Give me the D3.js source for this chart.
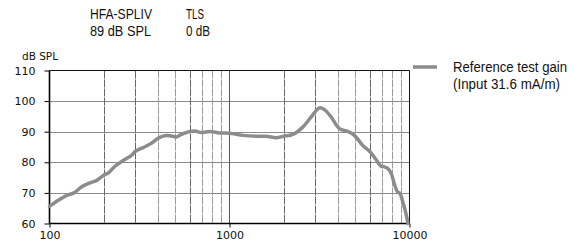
<!DOCTYPE html>
<html><head><meta charset="utf-8">
<script src="https://cdn.jsdelivr.net/npm/d3@7"></script>
<style>body{margin:0;background:#fff}svg{display:block}</style>
</head><body>
<script>
const freqs = [100,112,125,137,151,168,183,200,212,231,257,286,300,331,365,402,437,466,508,541,589,642,700,777,883,1000,1188,1409,1600,1820,2000,2248,2553,2842,3162,3368,3670,4076,4536,4940,5500,6000,6514,6950,7200,7560,7900,8230,8590,8850,9230,9550,9800];
const gain  = [65.6,67.6,69.2,70.0,72.0,73.3,74.1,75.8,76.5,78.7,80.6,82.3,83.6,84.8,86.1,87.9,88.7,88.7,88.3,89.1,89.9,90.2,89.7,90.1,89.6,89.5,88.8,88.5,88.5,88.0,88.5,89.1,91.5,94.8,97.8,97.2,94.8,91.0,90.1,88.8,85.5,83.6,80.9,78.7,78.6,78.0,76.5,73.0,70.3,69.8,66.5,63.3,60];
const yTicks = [60,70,80,90,100,110];
const xTickLabels = [100,1000,10000];
const xGrid = [200,300,400,500,600,700,800,900,2000,3000,4000,5000,6000,7000,8000,9000];
const headerCol1 = ["HFA-SPLIV","89 dB SPL"];
const headerCol2 = ["TLS","0 dB"];
const legendLines = ["Reference test gain","(Input 31.6 mA/m)"];

const W=582,H=244;
const svg=d3.select("body").append("svg").attr("width",W).attr("height",H);
const x=d3.scaleLog().domain([100,10000]).range([49.5,409.5]);
const y=d3.scaleLinear().domain([60,110]).range([223.5,70.5]);

// horizontal grid
svg.append("g").selectAll("line").data(yTicks.filter(d=>d>60&&d<110)).join("line")
  .attr("x1",x(100)).attr("x2",x(10000)).attr("y1",d=>Math.round(y(d))+0.5).attr("y2",d=>Math.round(y(d))+0.5)
  .attr("stroke","#8a8a8a").attr("stroke-width",1);
// vertical grid
svg.append("g").selectAll("line").data(xGrid).join("line")
  .attr("x1",d=>Math.round(x(d))+0.5).attr("x2",d=>Math.round(x(d))+0.5).attr("y1",y(110)).attr("y2",y(60))
  .attr("stroke",d=>[200,300,600,2000,3000,6000].includes(d)?"#666":"#9a9a9a").attr("stroke-width",1)
  .attr("stroke-dasharray","8,1");
// 1000 line
svg.append("line").attr("x1",Math.round(x(1000))+0.5).attr("x2",Math.round(x(1000))+0.5).attr("y1",y(110)).attr("y2",y(60)).attr("stroke","#555").attr("stroke-width",1);
// top & right border
svg.append("line").attr("x1",x(100)).attr("x2",x(10000)).attr("y1",y(110)).attr("y2",y(110)).attr("stroke","#111").attr("stroke-width",1);
svg.append("line").attr("x1",x(10000)).attr("x2",x(10000)).attr("y1",y(110)).attr("y2",y(60)).attr("stroke","#111").attr("stroke-width",1);

// axes
const yAxis=d3.axisLeft(y).tickValues(yTicks).tickSize(5).tickPadding(9).tickFormat(d3.format("d"));
const gy=svg.append("g").attr("transform",`translate(${x(100)},0)`).call(yAxis);
const xAxis=d3.axisBottom(x).tickValues(xTickLabels).tickSize(4).tickPadding(4).tickFormat(d3.format("d"));
const gx=svg.append("g").attr("transform",`translate(0,${y(60)})`).call(xAxis);
[gx,gy].forEach(g=>{
  g.select(".domain").attr("stroke","#000").attr("stroke-width",1.6);
  g.selectAll(".tick line").attr("stroke","#000").attr("stroke-width",1);
  g.selectAll("text").attr("font-family","DejaVu Sans").attr("font-size","11px").attr("fill","#111");
});
gx.select(".domain").attr("d",`M${x(100)},0H${x(10000)}`);
gy.select(".domain").attr("d",`M0,${y(110)}V${y(60)}`);

// curve
const line=d3.line().x((d,i)=>x(freqs[i])).y(d=>y(d)).curve(d3.curveCatmullRom);
svg.append("path").datum(gain).attr("d",line).attr("fill","none").attr("stroke","#8c8c8c").attr("stroke-width",3.5).attr("stroke-linejoin","round").attr("stroke-linecap","round");

// y unit label
svg.append("text").attr("x",22).attr("y",60).attr("font-family","DejaVu Sans").attr("font-size","10.5px").attr("fill","#111").text("dB SPL");

// header
const hf="Liberation Sans";
svg.append("g").selectAll("text").data(headerCol1).join("text").attr("x",90).attr("y",(d,i)=>19+i*17)
  .attr("font-family",hf).attr("font-size","14px").attr("fill","#111").attr("textLength",(d,i)=>[62,61][i]).attr("lengthAdjust","spacingAndGlyphs").text(d=>d);
svg.append("g").selectAll("text").data(headerCol2).join("text").attr("x",186).attr("y",(d,i)=>19+i*17)
  .attr("font-family",hf).attr("font-size","14px").attr("fill","#111").attr("textLength",(d,i)=>[18,24][i]).attr("lengthAdjust","spacingAndGlyphs").text(d=>d);

// legend
svg.append("line").attr("x1",413).attr("x2",437).attr("y1",67).attr("y2",67).attr("stroke","#8c8c8c").attr("stroke-width",3.5);
svg.append("g").selectAll("text").data(legendLines).join("text").attr("x",453).attr("y",(d,i)=>72+i*17)
  .attr("font-family",hf).attr("font-size","14px").attr("fill","#111").attr("textLength",(d,i)=>[114,107][i]).attr("lengthAdjust","spacingAndGlyphs").text(d=>d);
</script>
</body></html>
